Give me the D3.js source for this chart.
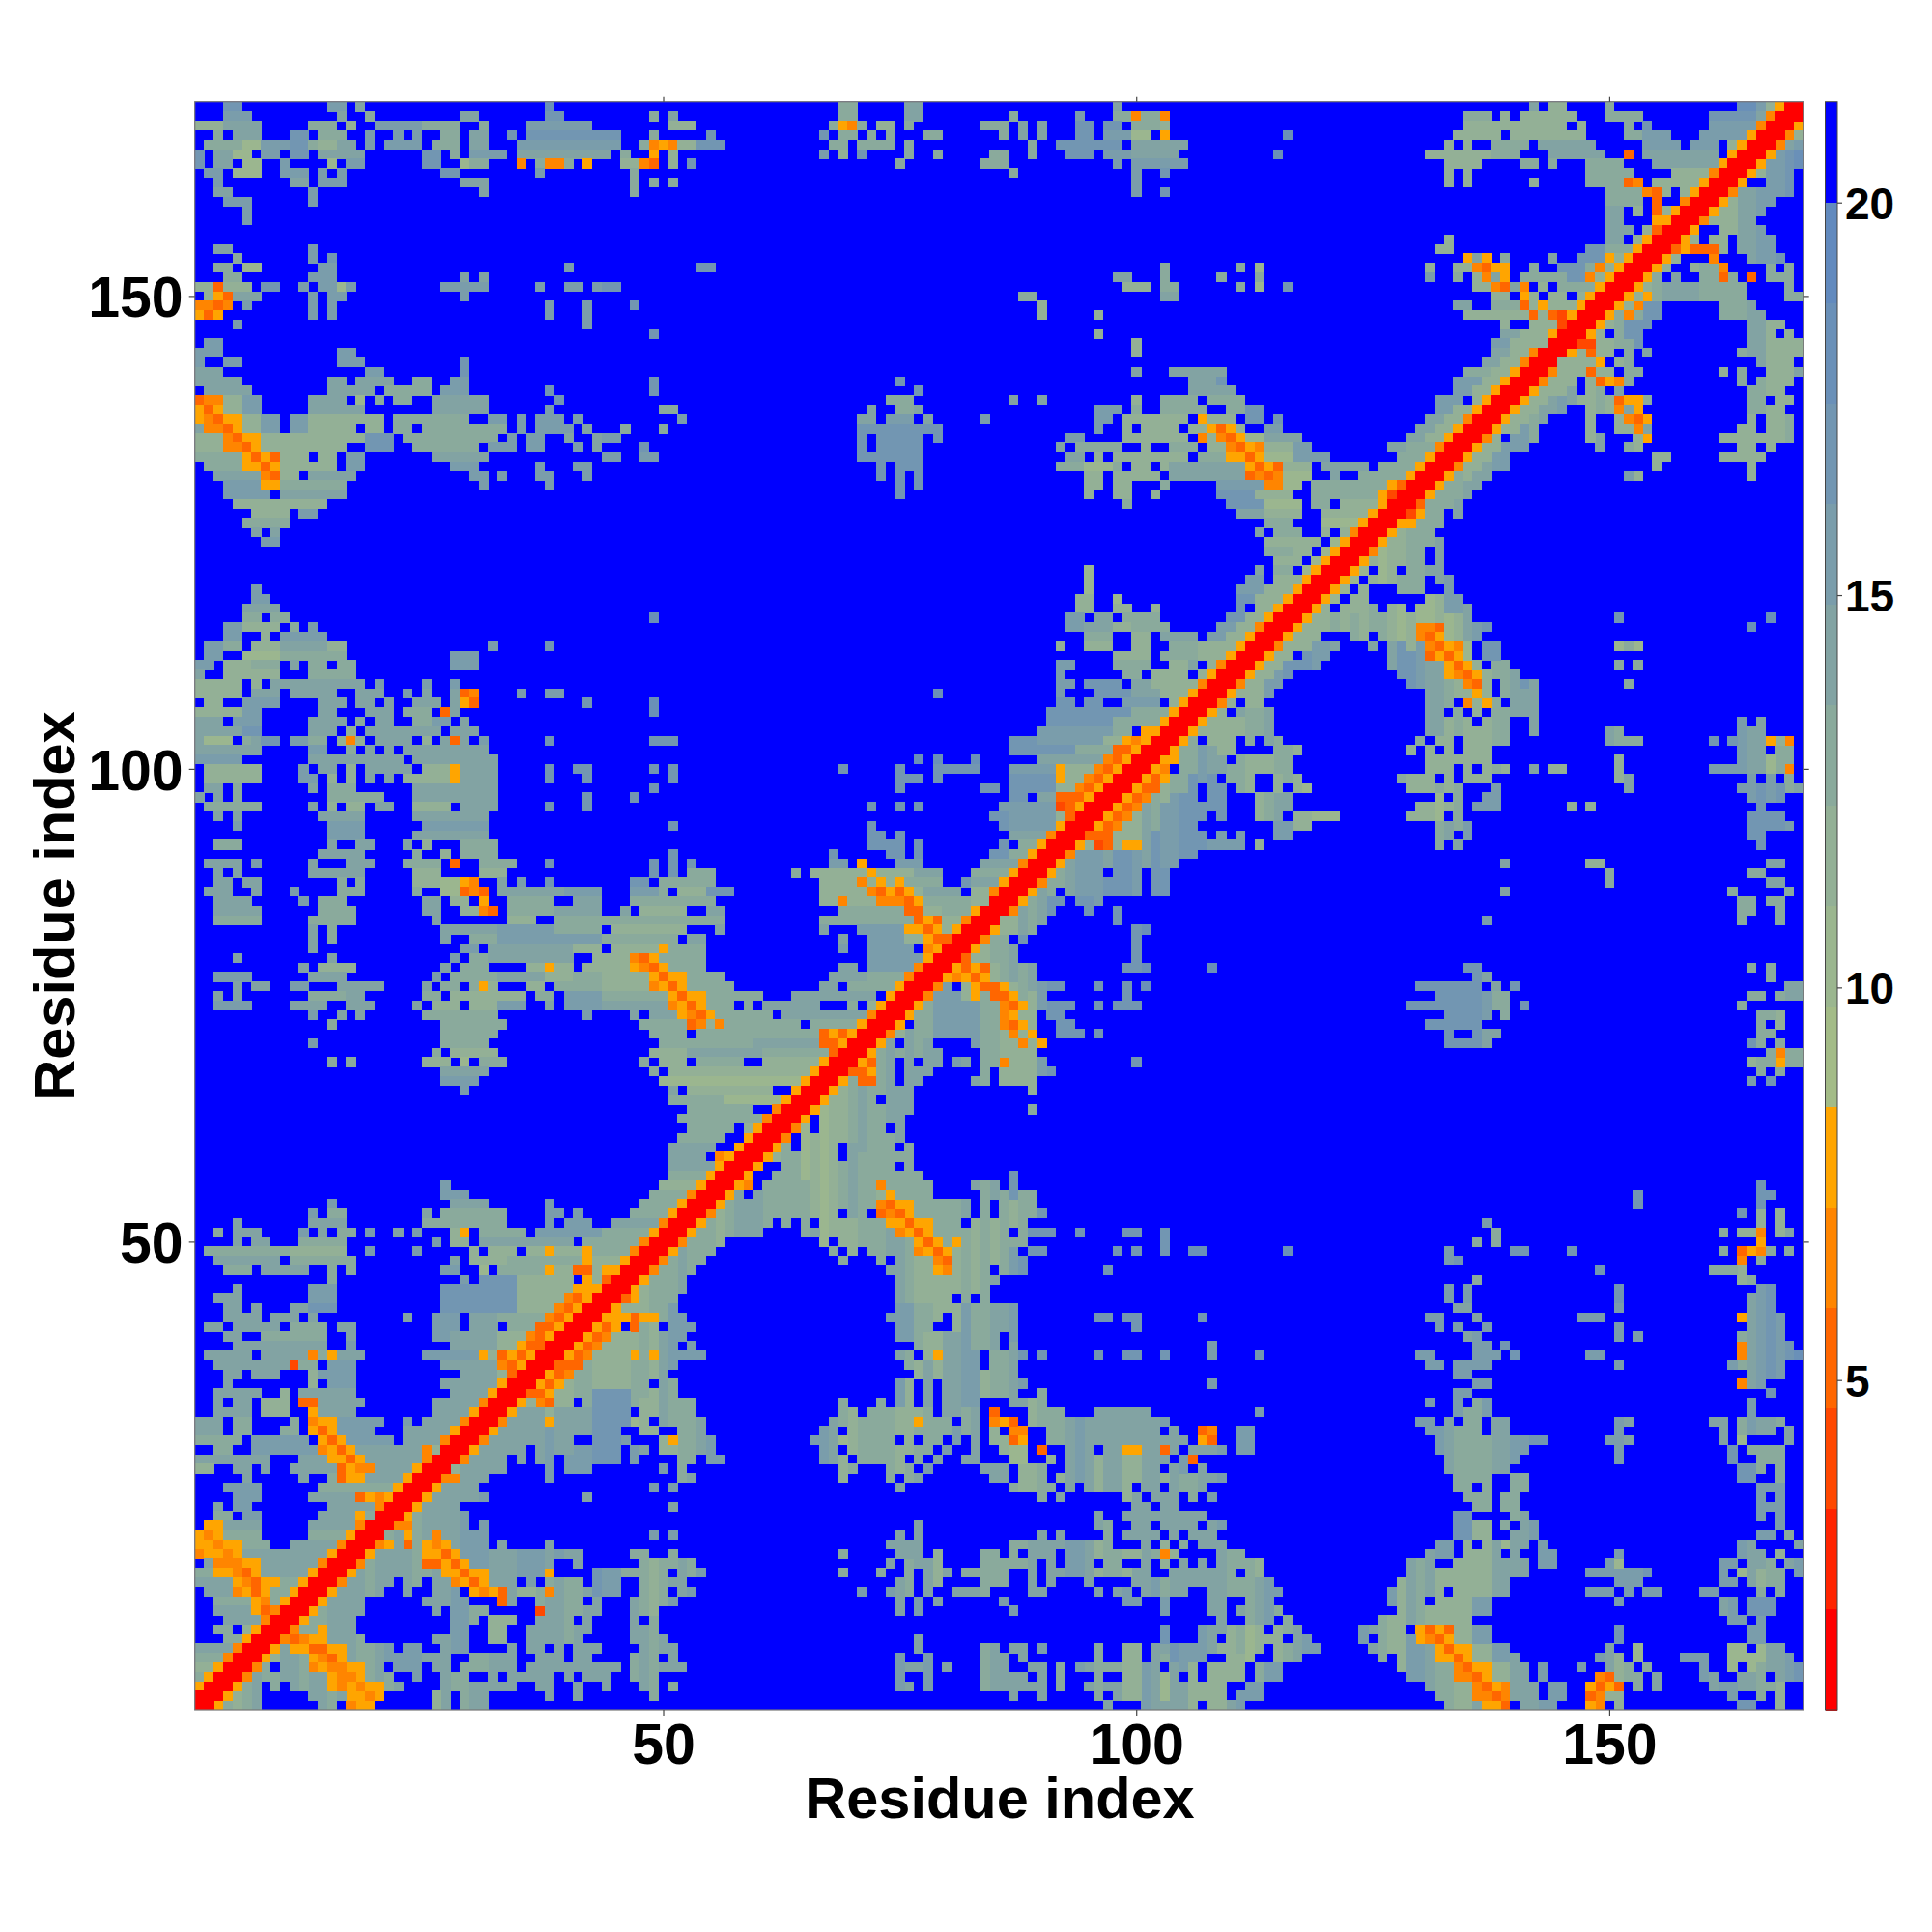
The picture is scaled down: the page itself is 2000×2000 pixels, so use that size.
<!DOCTYPE html>
<html><head><meta charset="utf-8">
<script src="https://cdn.jsdelivr.net/npm/d3@7"></script>
<style>html,body{margin:0;background:#fff}svg{display:block}text{font-family:"Liberation Sans",Arial,sans-serif;font-weight:bold;fill:#000}</style>
</head><body><svg id="c" width="2000" height="2000"></svg>
<script>
// Upper triangle of the symmetric matrix, top row = residue 170. Tokens: column(-column)level
const rows = [
"4-5g 15-16f 18e 38h 69-70d 76-77e 98e 142e 144-145c 150d 164-165h 166f 167c 168w 169-170r",
"4-6f 16e 19d 29-30e 38-39g 49d 51e 69-70d 76-77e 87d 94f 98-99d 100v 101-102d 103v 135-137d 139c 141-146c 150-153d 161-165g 166e 167v 168-169r",
"1-3c 4-7e 13-15d 17c 20-24f 25-28d 31d 36-42f 51-53c 68d 69w 70v 71d 73-74c 76d 84-86d 88e 90e 94-95g 97-98g 100-102d 103c 135-145c 147c 152d 154g 161-165f 166v 167-168r",
"3d 5-7e 11-12g 14-16d 19f 22f 24f 27-28d 30-31e 34g 36-45g 49d 55g 67g 69-70d 72d 74d 78-79d 86d 88e 90e 94-95g 97-99f 100-101b 103w 116h 134-138c 140-147c 152-153d 154-156f 160-164f 165w 166-167r",
"2-5d 6-7b 8-10f 11-12g 13d 14-15c 16-17e 19f 21-24f 26-28d 30-31e 35-45f 48d 49v 50w 51v 52-53c 54-56g 68-69d 71-74d 76d 89d 92-95g 96-98g 100-105e 133c 135c 138-141d 143-148e 154-157f 159-161f 163c 164w 165-166r",
"1g 3-4e 5-6b 8-9f 11-12g 14-18e 25-26g 28d 30-33f 35-44e 46d 49w 51c 67f 69c 71g 76d 79d 85-86d 89d 93-95g 97-99f 100-104e 115h 131-137c 138-140d 144-149e 152u 154-161e 163w 164-165r",
"1g 3-4e 6-7b 10f 15b 17-18f 25-26g 29b 30-31d 35v 37d 38-39v 40d 42w 46-47c 48v 49u 51c 53g 75d 84-86d 98f 100-105f 133-136c 141-142d 144d 148-151d 155-161e 162w 163-164r",
"2-3f 5-7b 10-12f 14f 16f 27-28g 37f 47d 87d 100f 103g 133c 135c 148-152d 157-160c 161v 162-163r",
"3f 11-12e 14-16f 29-31e 47d 49d 51d 100f 133c 135c 142c 148-151d 152u 153v 155-159c 160w 161-162r",
"3-4e 13f 31e 47d 100f 103g 150-153d 154v 155u 156c 158c 159w 160-161r",
"4-6f 13f 150-153d 155u 158v 159-160r",
"6f 150-151e 153c 155u 156c 157w 158-159r",
"6f 150-151e 155-156w 157-158r",
"150-152e 154c 155u 156-157r",
"133c 150-151e 153c 154w 155-156r",
"3-4e 13f 132-133c 148-149g 150-152d 153w 154-155r",
"5d 13f 15g 135w 136e 137w 139d 144e 147-149g 150w 151c 152w 153-154r",
"3-4d 6-7b 14-15f 40f 54-55g 103d 111d 113b 131c 134-135c 136v 137u 138w 139w 142d 145-147g 148d 149v 150c 151w 152-153r",
"4-5d 13-15f 29e 31e 98-99e 103d 109d 113d 131f 134d 136c 137v 138e 139w 141-145d 146-147g 148v 149c 150w 151-152r",
"1-2c 3u 4-6c 8-9g 12f 14-15f 16b 17f 27-31f 37f 40-41f 43f 44-45g 99-101c 103-104d 111d 113b 116g 136-137c 138v 139u 140e 141v 143c 145-148d 149w 150-151r",
"2c 3w 4u 5-7e 13f 15-16f 29f 88-89d 103-104e 138-139c 141w 142c 144-145c 147c 148w 149-150r",
"1-2v 3u 4v 6f 13f 15f 38f 42f 47g 90c 134-135e 138-140d 141u 142c 143w 144-146c 147w 148-149r",
"1w 2u 3w 13f 15f 38f 42f 90c 96c 135-141c 142u 143c 144u 145t 146w 147-148r",
"5f 42f 139c 142-144c 145t 146-147r",
"49g 96c 139-140e 141-143c 144w 145-146r",
"2-3f 100c 138-139f 140-143c 144-145r",
"1-3f 16-17f 100c 138-139e 140-141c 142v 143-144r",
"1f 4-5f 16-18f 29g 137-138e 139-140c 141v 142-143r",
"1-3e 19-20f 29g 100e 104-109e 135-137d 138-139c 140w 141-142r",
"1-5e 15-16e 18-21e 24-25d 28-29f 49g 75g 106-108e 109g 134-136f 137-138c 139w 140-141r",
"2-6e 15-19e 21-25d 27-29f 38g 49g 77g 106-110e 134-135f 136-137c 138w 139-140r",
"1u 2-3v 4-5c 6-7f 13-16e 18b 20d 22-23d 26-31e 39g 74-76d 87e 90e 100c 103-106d 108-111d 132-134f 136c 137w 138-139r",
"1w 2u 3w 4-5c 6-7f 13-18e 26-31e 38f 50-51d 72e 75-76d 77e 96-98f 100d 103-107d 110-111d 112-113g 132-133f 134-135c 136w 137-138r",
"1w 2v 3u 4-5w 6-7c 8-9f 11-12f 13-20c 22-29d 32-33f 35f 37-39f 41f 52f 71-72e 74-76f 78e 84f 96-97f 99-105c 107w 108-110c 112-113g 115g 131-132e 133-134c 135v 136-137r",
"1e 2-3v 4u 5w 6-7c 8-9f 11-12f 13-17c 19-20c 22-23d 25-33d 35f 37-40f 42e 46d 50d 71-79g 96f 99c 101-104c 106-107c 108w 109u 110w 111c 114-115f 130-131e 132-133c 134w 135-136r",
"1-3c 4v 5u 6-7w 8-18c 19-21g 23-32d 34f 36-37f 40e 43e 44-45f 71g 73-77g 79g 93-94f 99-105c 107v 108c 109v 110u 111w 112-113b 114-117e 129-130e 131-132c 133w 134-135r",
"1-3c 4-5v 6u 7w 8-16c 19-21g 24-30d 32-34f 36-37f 41f 43e 48g 71g 73-77g 92e 94-98d 101c 104-106d 108-109c 110v 111u 112w 113v 114-116c 117-118f 127-129e 129-131d 132v 133-134r",
"1-5d 6w 7u 8w 9u 10-12c 14-15c 17-18f 26-31e 44-45f 48-49f 71-77g 93-94e 96c 98-103c 104-105c 107-109d 110-111w 112u 113w 114-116b 117-120f 128-129d 130d 131w 132-133r",
"2-5d 6-7w 8u 9w 10-15c 17-18f 28-30f 37f 41-42f 73g 75-77g 92-94d 95-97b 98d 100-101c 103c 104-111e 112w 113u 114w 115u 116-118c 120-124e 126-129d 130w 131-132r",
"3-7e 8v 9u 10-11c 13-17e 30-31f 33f 37-38f 42f 73g 75g 77g 95-96c 98-101c 102c 104-111e 112u 113v 114u 115v 116-118b 121e 124-128d 129w 130-131r",
"4-7f 8-9w 10-16d 31f 38f 75g 77g 95-96c 98-99c 103d 109-113f 114-115v 116-117b 119-126d 127w 128u 129-130r",
"4-8f 10-16e 75g 95c 98-99c 102c 109-112g 113-116c 119-125d 126w 127t 128-129r",
"5-14c 99d 110-113g 114-117b 119-120d 122-125c 126w 127-128r",
"7-10c 12-13f 111-113e 114-117c 120-124c 125w 126-127r",
"6-10d 114-116d 120-123b 124w 125-126r",
"7e 9e 113e 115-117d 120c 122c 123v 124-125r",
"8-9f 114-117c 118-119c 121b 122w 123-124r",
"114-116d 117-118c 120b 121w 122-123r",
"115-117c 119b 120w 121-122r",
"95b 113e 115-116d 118b 119w 120-121r",
"95b 112-113f 115-117c 118w 119-120r",
"7f 95b 111-113f 114-116c 117w 118-119r",
"7-8f 94-95c 98b 111-112g 113-115c 116w 117-118r",
"6-9e 94-95c 98-99c 102c 111g 113-114c 115w 116-117r",
"6-7d 9-10d 49h 93-94f 96-97e 99-102d 110-111g 112-113c 114w 115-116r",
"4-5f 6-9c 11d 13f 93-94f 95-97e 98-99c 100-103d 109-110f 111-112c 113v 114-115r",
"4-5f 8c 10-14f 95-97d 100-101c 103-106e 108-109f 110-111c 112w 113-114r",
"2-3f 4-5d 7-9c 10-14e 15-16c 32f 38g 92c 95-97c 100-101c 104-106d 107-110c 111w 112-113r",
"2-3f 6-9b 10-16d 28-30f 98-101c 103-106d 107-109c 110w 111-112r",
"1-2f 4-6c 7-9d 11e 13-14d 16-17d 28-30f 92-93f 98-101d 104-105c 106e 108c 109v 110-111r",
"1e 4-9c 13-17d 92f 99-100d 102-105c 107c 108w 109-110r",
"1-5c 7c 9-18e 20f 25f 28f 92-93f 95-98g 100-101e 102-106c 107v 108-109r",
"1-5c 7-9e 11-15e 18-20e 23f 25e 28e 29u 30v 35f 38-39f 79h 92f 96-99g 100-102e 103-105c 106w 107-108r",
"2-3c 6-9f 14-16e 18-19e 21e 24-26e 28e 29w 30u 42g 49h 92-93g 95-96g 99-102f 104c 105w 106-107r",
"1-5c 6-7f 14-15e 19-21e 23-25d 27u 28e 49h 91-99g 100-103d 104w 105-106r",
"1-3e 5-7f 13-16e 18d 20-21e 24-25d 26-27f 29e 91-97g 98-102d 103w 104-105r",
"1-5e 6-7g 13-15e 17c 19-26e 28-30e 90-97f 98-99d 101-102w 103-104r",
"1e 2-4b 6d 7e 8-9g 11-12f 13-14d 16c 17v 18c 20-23e 25c 27e 28u 29e 31f 38g 49g 50-51g 87-89g 90-96f 97-98c 99w 100v 101w 102-103r",
"1-7e 13-14f 17d 19e 21e 23-31e 87-93g 94-97d 98u 99u 100w 101-102r",
"1-5f 13-22e 24-32e 77h 79h 83h 90-96e 97v 98u 99w 100-101r",
"2-7c 12f 14-15e 17c 19-23e 25-27c 28w 29-32e 38g 41-42g 49g 51g 69g 75g 79-83g 87-91f 92w 93-95c 96v 97u 98w 99-100r",
"2-7c 12-13f 15c 17c 19e 21e 23-27c 28w 29-32e 38g 42g 51g 75-77g 79g 87-91g 92w 93-94c 95v 96u 97w 98-99r",
"2-3e 5d 13e 15-17d 24-32e 49g 75g 84-85g 87-91g 92-93c 94v 95u 96w 97-98r",
"1e 3e 5d 15-20d 24-32e 42g 47g 87-88g 90-91e 92-94u 95w 96-97r",
"2-7d 13e 15c 17-18c 20-21e 24-27c 29-32e 38g 42g 72g 75g 77g 86-91f 92t 93u 94w 95-96r",
"3e 5e 14-18e 24-31e 85-86g 87-91f 92c 93u 94-95r",
"5f 15-18f 25-31f 51g 72g 86g 87-91f 92w 93-94r",
"15-18f 24-31e 72-73g 75g 87-90e 91v 92-93r",
"3-5d 15e 18-19e 23e 25c 29-32d 72-75g 77g 86g 88-89d 90w 91-92r",
"14-18e 24d 27c 29-32d 51g 68g 74-75g 77g 85-86g 87-88d 89w 90-91r",
"2-5e 7f 13e 17-19e 23-26d 28u 31-34d 38g 49g 51g 53g 68-69f 71w 75-77f 84-87e 88v 89-90r",
"3e 5e 13-18e 24-26c 31-33c 49g 51g 53-55d 64d 66-71c 72w 73-76c 77-79e 83-86d 87w 88-89r",
"3-4e 6-7e 16d 18d 24-26c 27-28b 29w 30v 33e 35f 38g 47-48g 50-55d 67-70c 71v 72c 73w 74c 75w 76-79d 82g 83-85e 86w 87-88r",
"2-4e 7e 11f 16-18d 24d 27-28b 29u 30v 31u 33-39e 40-43f 47-49f 50d 52-54c 55-57g 67-71c 72v 73u 74w 75u 76w 77c 78-81e 83-84c 85v 86-87r",
"3-6e 12f 14-16d 25-26e 28c 29c 31w 34-38d 41-43e 47-55d 67-68c 69v 70-72c 73-75v 76u 77w 78-82d 83-84c 85-86r",
"3-7e 14-17d 25-26e 29-30c 31v 32u 34-38d 39-43e 46e 48-52c 55-56e 69-75d 76-77u 78-79c 80-82d 83w 84-85r",
"3-7d 13-17d 26e 34-36c 39-43d 44-56d 67-76d 77u 78w 79u 80-81c 82v 83-84r",
"13e 15d 27-32e 33-38f 39-43d 45-52c 56e 67e 71-75f 76-77w 78u 79w 80c 81w 82-83r",
"13e 15d 27e 30-32d 33-43f 44-51d 53-54e 69e 72-75f 76-77c 78w 79-80u 81-82r",
"13e 29-30f 32-40e 41-43c 45-49c 50w 51-54d 69f 72-76f 78v 79w 80-81r",
"5e 15e 28f 30-31d 32-40e 43c 44-46c 47v 48u 49w 50-54d 72-77f 78w 79-80r",
"12e 14-17c 27e 29-31d 36-37c 38w 39-40c 42-43c 44-46c 47w 48v 49u 50w 51-54d 69-70e 72-76f 77v 78-79r",
"3-6f 13-16e 26f 28-32d 33-37e 38-40c 41-43d 44-48c 49w 50u 51-52w 53-56d 68-71e 72-75d 76v 77-78r",
"5e 7-8e 11-12f 16-20e 25e 27-28d 30d 31w 32c 36-37c 39-43d 44-48c 49v 50w 51u 52w 53-57d 67-68e 70-74d 75w 76-77r",
"3e 5e 13-16d 17-18e 25-26d 28-35c 37-38d 40-43f 44-50d 51w 52u 53-54w 55-60d 64-72e 74w 75-76r",
"3-6f 11-14e 17-19e 24e 26-28c 30-32c 33-35f 38e 40-43f 44-50e 51v 52w 53u 54w 55-57d 59d 61-66e 70d 72c 73w 74-75r",
"13f 16e 18e 25-32d 42f 47e 49-51e 52w 53v 54u 55w 56-61d 63-71e 72v 73-74r",
"15d 27-33d 48-52d 53u 54v 55c 56v 57-64d 66-70d 71w 72-73r",
"27-32d 49-52d 54-66d 67u 68w 69u 70w 71-72r",
"13f 27-31d 50-59d 60-66e 67-68u 69w 70-71r",
"26d 28-32c 49-52c 53-60e 61-67d 68u 69-70r",
"15d 17d 25-27c 29b 31-33d 48d 50-52c 54-58d 61-66c 67w 68-69r",
"27-31e 49d 51-65c 66w 67-68r",
"27-30f 50-64b 65w 66-67r",
"29f 51e 53-61c 64w 65-66r",
"51-56d 57-62b 63w 64-65r",
"53-59d 62v 63-64r",
"52-60d 61v 62-63r",
"53-57d 59c 60w 61-62r",
"52-56d 59w 60-61r",
"51-55e 58w 59-60r",
"51-54e 56v 57w 58-59r",
"51-55e 56w 57-58r",
"51-54d 55w 56-57r",
"27f 50-53c 54w 55-56r",
"27-29f 49-52d 53v 54-55r",
"15f 28-31e 38f 48-51d 52w 53-54r",
"13f 15-16d 25e 27-33d 38-39f 41f 47-50d 51w 52-53r",
"5e 13-16e 25-33d 38f 40-42f 45-49e 50v 51-52r",
"3d 5-7e 12f 14e 16-17d 19f 22e 24f 28c 29w 31-35d 37-43f 44-48d 49w 50-51r",
"5e 7-8e 12-16d 26f 28-29c 31-40e 42-47d 48v 49-50r",
"2-10d 11-16c 19f 24f 30c 32-34c 36-37c 38w 39-41c 42w 43-46d 47v 48-49r",
"3-9e 11-17d 28e 30-33c 34-41d 42w 43-45c 46w 47-48r",
"4-6d 8-12e 15d 17d 27-28f 31b 33-37d 38w 39-40c 41-42u 43c 44-45w 46-47r",
"15d 29f 31-34g 35-40c 42w 43c 44u 45-46r",
"5e 13-15f 27-34g 35-40c 41-43w 44-45r",
"3-5e 13-15f 27-34g 35-39c 40v 41u 42w 43-44r",
"4-5e 7e 11-12e 13-15g 27-34g 35-38c 39v 40u 41w 42-43r",
"4-7e 9-11e 13e 23e 26-28f 30-32e 33-37d 38v 39u 40w 41-42r",
"2-3e 5-9e 11-14d 16-17e 26-28f 30-32e 34-36d 37-38u 39w 40-41r",
"4-5e 8-14d 17e 26-27f 28-32e 33-35c 36v 37u 38w 39-40r",
"5-14e 17f 28-32e 33-34c 35w 36-37u 38-39r",
"2-6e 8-12e 13v 14d 15w 16-18e 25-30f 31w 32c 33u 34w 35u 36w 37-38r",
"3-10e 11t 12-13d 15-17f 27-32e 33v 34u 35w 36-37r",
"4-5e 7-9e 13c 14-17f 29-32e 33c 34u 35-36r",
"4e 13c 15-17f 27-32e 33w 34-35r",
"3-7e 10c 12-17e 28-31e 32w 33-34r",
"3e 5-6e 8-10c 12u 13u 14-18e 26-30e 31v 32-33r",
"3-6e 8-10c 13w 14-17e 26-29e 30w 31-32r",
"1-3e 5-6d 11d 13v 14-15w 16-20f 23f 25-28e 29v 30-31r",
"1-3e 5-6d 10-11d 13w 14u 15w 16-19f 23-27e 28w 29-30r",
"1-5d 7-12f 14w 15u 16w 17-21f 23-26e 27v 28-29r",
"3-4d 7-13f 14v 15w 16u 17w 18-24e 25v 26c 27-28r",
"1-8e 12-14e 15-16w 17u 18w 19-24e 25v 26-27r",
"1-2c 5-6e 8e 11-15e 16u 17w 18-19v 20-23e 24w 25-26r",
"6e 12e 15d 16u 17-18w 19-22e 23w 24-25r",
"4-7f 14-21d 22w 23-24r",
"5-7f 13-17e 18u 19w 20v 21w 22-23r",
"3e 5-6f 15-19e 20v 21-22r",
"3-4d 6-7f 14-17e 18w 19d 20-21r",
"2-3w 4-7e 13-17e 18v 19-20r",
"1w 2v 3w 4-7d 13-16d 17w 18-19r",
"1-2w 3v 4-5w 6-8d 11-15e 16v 17-18r",
"1v 2-3w 4v 5w 6-14e 15w 16-17r",
"2e 3-4v 5v 6-7w 8-13e 14v 15-16r",
"1-2d 3-4w 5v 6u 7w 8-12e 13w 14-15r",
"1-4e 5w 6v 7u 8-9w 10-11d 12w 13-14r",
"2-4e 5v 6w 7u 8w 9-10d 11w 12-13r",
"3-6d 7w 8v 9d 10w 11-12r",
"3-6e 7w 8u 9v 10-11r",
"4-7e 8v 9-10r",
"3-4d 6c 7w 8-9r",
"4-5d 6w 7-8r",
"1-4e 5v 6-7r",
"1-3d 4v 5-6r",
"1-2c 3w 4-5r",
"1d 2w 3-4r",
"1w 2-3r",
"1-2r",
"1r"
];
const levelOrder = "rstuvwabcdefghi";
const levelColors = ["#ff0000","#ff2400","#ff4800","#ff6600","#ff8500","#ffa500","#a3bb87","#9bb68f","#93b096","#8aaa9c","#82a3a3","#7a9dab","#7296b2","#6a90b8","#628abe","#0000ff"];
const zMin = 0.8, zMax = 21.28;
const xTicks = [50,100,150], yTicks = [50,100,150], cbTicks = [5,10,15,20];
const axisTitle = "Residue index";
const residues = 170;

const L=201.7,R=1866.7,T=105.7,B=1770;
const svg=d3.select("#c");
const x=d3.scaleLinear().domain([0.5,residues+0.5]).range([L,R]);
const y=d3.scaleLinear().domain([0.5,residues+0.5]).range([B,T]);
const bandStep=(zMax-zMin)/levelColors.length;
const color=d3.scaleQuantize().domain([zMin,zMax]).range(levelColors);
const cells=[];
rows.forEach((s,k)=>{const r=residues-k;
  for(const m of s.matchAll(/(\d+)(?:-(\d+))?([a-z])/g)){
    const a=+m[1],b=m[2]?+m[2]:a,z=zMin+(levelOrder.indexOf(m[3])+.5)*bandStep;
    for(let c=a;c<=b;c++){cells.push({i:c,j:r,z}); if(c!==r)cells.push({i:r,j:c,z});}
  }});
svg.append("rect").attr("x",L).attr("y",T).attr("width",R-L).attr("height",B-T).attr("fill",color(zMax-0.01));
svg.append("g").attr("shape-rendering","crispEdges").selectAll("rect").data(cells).join("rect")
 .attr("x",d=>x(d.i-.5)).attr("y",d=>y(d.j+.5)).attr("width",x(1.5)-x(.5)+.4).attr("height",y(.5)-y(1.5)+.4).attr("fill",d=>color(d.z));
svg.append("rect").attr("x",L).attr("y",T).attr("width",R-L).attr("height",B-T).attr("fill","none").attr("stroke","#777").attr("stroke-width",1.2);
function clean(g){g.select(".domain").remove();g.selectAll(".tick line").attr("stroke","#444").attr("stroke-width",1.2);}
const gb=svg.append("g").attr("transform",`translate(0,${B})`).call(d3.axisBottom(x).tickValues(xTicks).tickSize(6).tickPadding(6));
gb.call(clean);gb.selectAll("text").attr("font-size",59).attr("dy",null).attr("y",56);
const gl=svg.append("g").attr("transform",`translate(${L},0)`).call(d3.axisLeft(y).tickValues(yTicks).tickSize(6).tickPadding(6));
gl.call(clean);gl.selectAll("text").attr("font-size",59).attr("dy","0.36em").attr("x",-12);
svg.append("g").attr("transform",`translate(0,${T})`).call(d3.axisTop(x).tickValues(xTicks).tickSize(6).tickFormat("")).call(clean);
svg.append("g").attr("transform",`translate(${R},0)`).call(d3.axisRight(y).tickValues(yTicks).tickSize(6).tickFormat("")).call(clean);
svg.append("text").attr("x",1035).attr("y",1882).attr("text-anchor","middle").attr("font-size",59.5).text(axisTitle);
svg.append("text").attr("transform","translate(77,938) rotate(-90)").attr("text-anchor","middle").attr("font-size",59.5).text(axisTitle);
// colour bar
const cbX=1889.5,cbW=12.5;
const cbY=d3.scaleLinear().domain([zMin,zMax]).range([B,T]);
svg.append("g").attr("shape-rendering","crispEdges").selectAll("rect").data(levelColors).join("rect")
 .attr("x",cbX).attr("width",cbW).attr("y",(d,i)=>cbY(zMin+(i+1)*bandStep)).attr("height",cbY(zMin)-cbY(zMin+bandStep)+.5).attr("fill",d=>d);
svg.append("rect").attr("x",cbX).attr("y",T).attr("width",cbW).attr("height",B-T).attr("fill","none").attr("stroke","#444").attr("stroke-width",1);
const gc=svg.append("g").attr("transform",`translate(${cbX+cbW},0)`).call(d3.axisRight(cbY).tickValues(cbTicks).tickSize(5).tickPadding(4));
gc.call(clean);gc.selectAll("text").attr("font-size",46).attr("dy","0.36em").attr("x",8);
</script></body></html>
